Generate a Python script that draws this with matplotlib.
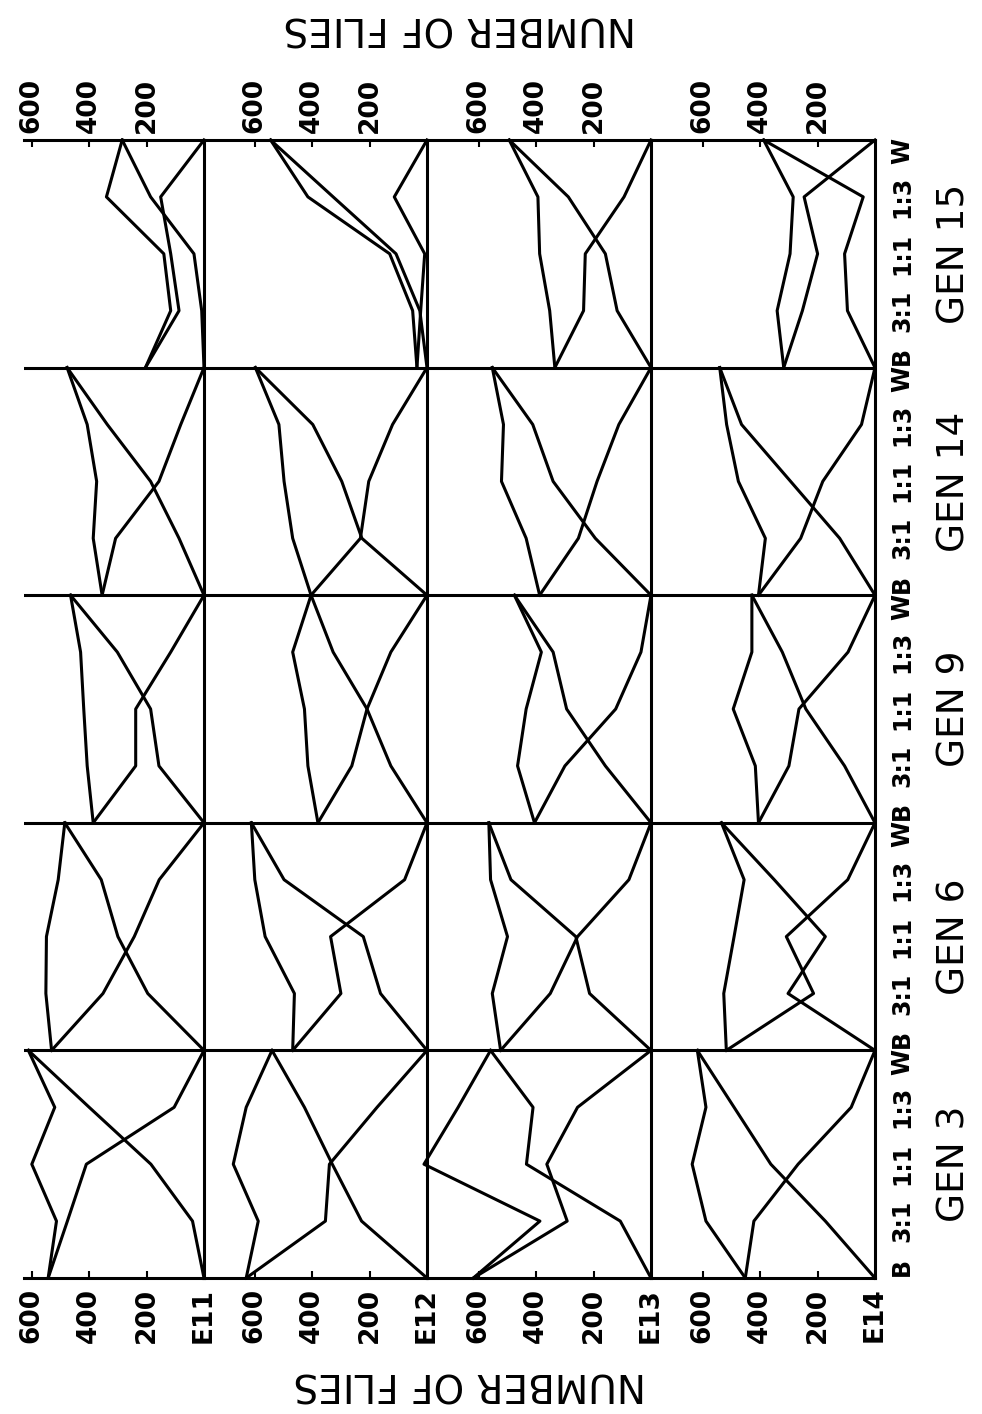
import matplotlib.pyplot as plt
from matplotlib.transforms import blended_transform_factory

# ===================== 数据 =====================
conditions = ['B', '3:1', '1:1', '1:3', 'W']
generations = ['GEN 3', 'GEN 6', 'GEN 9', 'GEN 14', 'GEN 15']
experiments = ['E11', 'E12', 'E13', 'E14']
count_ticks = [600, 400, 200]

# 每行一个世代（GEN 3, 6, 9, 14, 15），每行按 B, 3:1, 1:1, 1:3, W 排列
e11_black = [
    [543, 476, 410, 104, 0],
    [531, 352, 243, 156, 0],
    [386, 238, 238, 116, 0],
    [355, 308, 157, 81, 0],
    [204, 87, 116, 151, 0],
]
e11_white = [
    [0, 40, 185, 400, 612],
    [0, 196, 300, 358, 485],
    [0, 157, 186, 302, 465],
    [0, 87, 186, 337, 477],
    [0, 8, 35, 186, 285],
]
e11_total = [
    [543, 514, 600, 520, 612],
    [531, 551, 549, 508, 485],
    [386, 407, 419, 430, 465],
    [355, 386, 374, 407, 477],
    [204, 116, 140, 340, 285],
]

e12_black = [
    [630, 354, 340, 174, 0],
    [468, 300, 336, 78, 0],
    [380, 262, 209, 126, 0],
    [404, 232, 203, 120, 0],
    [35, 22, 8, 114, 0],
]
e12_white = [
    [0, 228, 330, 427, 540],
    [0, 162, 222, 498, 612],
    [0, 126, 209, 327, 404],
    [0, 227, 297, 398, 598],
    [0, 25, 108, 327, 545],
]
e12_total = [
    [630, 588, 675, 630, 540],
    [468, 462, 564, 600, 612],
    [380, 415, 427, 468, 404],
    [404, 468, 498, 516, 598],
    [35, 50, 130, 415, 545],
]

e13_black = [
    [619, 292, 363, 256, 0],
    [524, 351, 256, 77, 0],
    [406, 300, 123, 35, 0],
    [388, 253, 188, 112, 0],
    [335, 235, 229, 94, 0],
]
e13_white = [
    [0, 107, 434, 411, 559],
    [0, 214, 262, 488, 565],
    [0, 159, 294, 341, 476],
    [0, 194, 341, 412, 553],
    [0, 118, 159, 288, 494],
]
e13_total = [
    [619, 387, 791, 672, 559],
    [524, 553, 500, 559, 565],
    [406, 465, 435, 382, 476],
    [388, 435, 521, 514, 553],
    [335, 353, 388, 394, 494],
]

e14_black = [
    [452, 422, 268, 83, 0],
    [518, 214, 309, 95, 0],
    [406, 300, 265, 94, 0],
    [406, 259, 182, 47, 0],
    [318, 253, 200, 247, 0],
]
e14_white = [
    [0, 173, 363, 491, 619],
    [0, 303, 173, 351, 535],
    [0, 106, 241, 323, 429],
    [0, 123, 294, 465, 541],
    [0, 96, 106, 41, 388],
]
e14_total = [
    [452, 589, 637, 589, 619],
    [518, 527, 491, 456, 535],
    [406, 417, 494, 429, 429],
    [406, 382, 476, 517, 541],
    [318, 341, 296, 285, 388],
]


def plot_figure(out_file='out.png'):
    plt.rcParams['font.family'] = ['DejaVu Sans']

    fig_w, fig_h = 982, 1414
    fig = plt.figure(figsize=(fig_w / 100, fig_h / 100), dpi=100)

    # 版面（像素）
    top_px, bottom_px = 140, 1278
    base_px = [204, 427, 651, 875]   # 每列零线所在位置
    panel_w = 224
    px_per_fly = 0.287
    lw = 2.2

    series = [
        (e11_black, e11_white, e11_total),
        (e12_black, e12_white, e12_total),
        (e13_black, e13_white, e13_total),
        (e14_black, e14_white, e14_total),
    ]
    n_cond = len(conditions)
    step = n_cond - 1
    n_rows = step * len(generations)

    axes = []
    for j, name in enumerate(experiments):
        left = 24 if j == 0 else base_px[j] - panel_w
        width = base_px[j] - left
        ax = fig.add_axes([left / fig_w, 1 - bottom_px / fig_h,
                           width / fig_w, (bottom_px - top_px) / fig_h])
        ax.patch.set_visible(False)   # 不遮住左边一列的零线
        ax.set_xlim(width / px_per_fly, 0)
        ax.set_ylim(0, n_rows)

        black, white, total = series[j]
        for g in range(len(generations)):
            ys = [step * g + i for i in range(n_cond)]
            for vals in (black[g], white[g], total[g]):
                ax.plot(vals, ys, color='black', lw=lw, clip_on=False)

        # 世代之间的分隔线
        for y in range(step, n_rows, step):
            ax.axhline(y, color='black', lw=lw)

        ax.spines['left'].set_visible(False)
        ax.spines['top'].set_visible(False)
        for side in ('right', 'bottom'):
            ax.spines[side].set_linewidth(lw)
        ax.set_yticks([])

        ax.set_xticks(count_ticks + [0], labels=[str(t) for t in count_ticks] + [name])
        ax.tick_params(axis='x', direction='in', length=5, width=1.5, pad=7,
                       labelrotation=90, labelsize=19)
        for lab in ax.get_xticklabels():
            lab.set_fontweight('bold')

        sec = ax.secondary_xaxis('top')
        sec.set_xticks(count_ticks, labels=[str(t) for t in count_ticks])
        sec.tick_params(direction='in', length=5, width=1.5, pad=5,
                        labelrotation=90, labelsize=19)
        sec.spines['top'].set_linewidth(lw)
        for lab in sec.get_xticklabels():
            lab.set_fontweight('bold')
        axes.append(ax)

    # 右侧：条件与世代标注
    ax = axes[-1]
    trans = blended_transform_factory(ax.transAxes, ax.transData)
    for g, gen in enumerate(generations):
        for i, cond in enumerate(conditions):
            y = step * g + i
            if i == 0:
                y += 0.2
            elif i == n_cond - 1:
                y -= 0.2
            ax.text(1.12, y, cond, transform=trans, rotation=90,
                    ha='center', va='center', fontsize=17, fontweight='bold')
        ax.text(1.357, step * g + step / 2, gen, transform=trans, rotation=90,
                ha='center', va='center', fontsize=27)

    # 上下两个（倒置的）轴标题
    fig.text(470 / fig_w, 1 - 1383 / fig_h, 'NUMBER OF FLIES', rotation=180,
             ha='center', va='center', fontsize=28)
    fig.text(460 / fig_w, 1 - 28 / fig_h, 'NUMBER OF FLIES', rotation=180,
             ha='center', va='center', fontsize=28)

    fig.savefig(out_file, dpi=100, facecolor='white')


if __name__ == "__main__":
    plot_figure()
